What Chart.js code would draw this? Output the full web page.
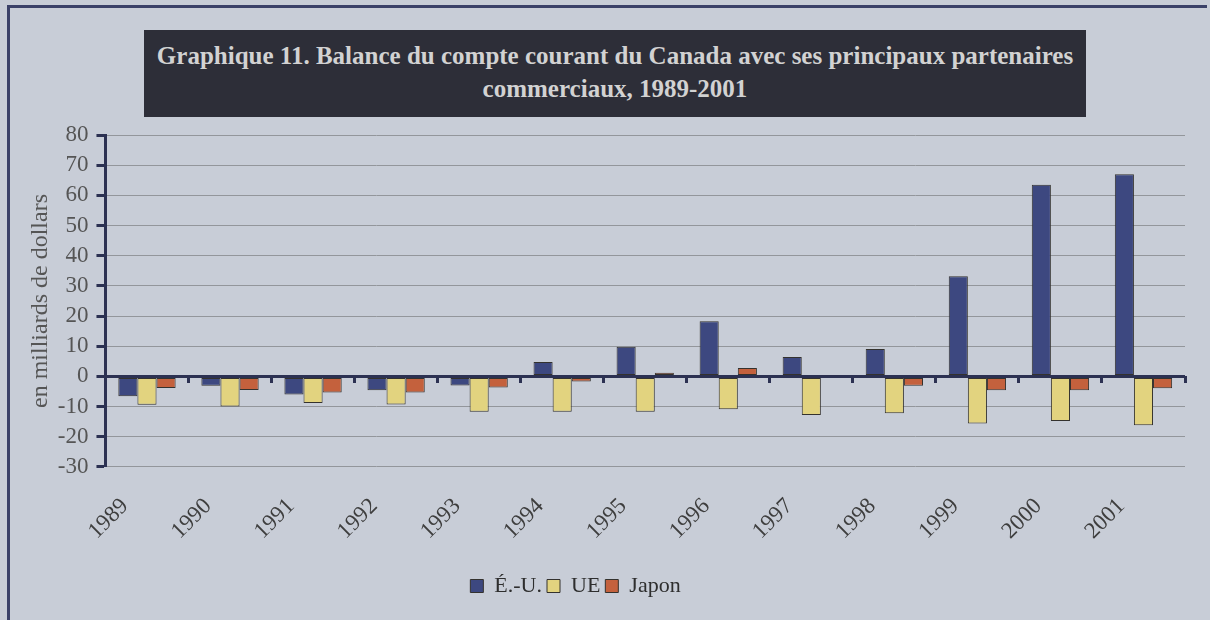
<!DOCTYPE html>
<html lang="fr">
<head>
<meta charset="utf-8">
<script src="https://cdn.jsdelivr.net/npm/chart.js@4.4.1/dist/chart.umd.min.js"></script>
<style>
  html, body { margin: 0; padding: 0; overflow: hidden; }
  body { width: 1210px; height: 620px; background: #c8cdd7; position: relative; }
  .edge-left { position: absolute; left: 7px; top: 5px; width: 3px; height: 615px; background: #3b4168; }
  .edge-top { position: absolute; left: 7px; top: 5px; width: 1200px; height: 3px; background: #3b4168; }
  .title { position: absolute; left: 144px; top: 30px; width: 942px; height: 87px;
           background: #2d2e38; color: #d2d2d2; text-align: center; white-space: nowrap;
           font: bold 25px "Liberation Serif", "Times New Roman", serif;
           line-height: 33px; padding-top: 9px; box-sizing: border-box; }
  #chart { position: absolute; left: 0; top: 0; }
</style>
</head>
<body>
<div class="edge-left"></div>
<div class="edge-top"></div>
<div class="title">Graphique 11. Balance du compte courant du Canada avec ses principaux partenaires<br>commerciaux, 1989-2001</div>
<canvas id="chart" width="1210" height="620"></canvas>
<script>
// Balance du compte courant, en milliards de dollars
var years = ['1989', '1990', '1991', '1992', '1993', '1994', '1995', '1996', '1997', '1998', '1999', '2000', '2001'];
var usValues = [-6.6, -3.1, -6.0, -4.6, -3.0, 4.8, 9.8, 18.3, 6.4, 9.1, 33.2, 63.5, 67.0];
var euValues = [-9.4, -10.0, -8.8, -9.3, -11.7, -11.7, -11.7, -10.9, -12.8, -12.2, -15.6, -14.8, -16.2];
var japanValues = [-3.8, -4.5, -5.3, -5.3, -3.7, -1.7, 1.2, 2.8, 0.4, -3.1, -4.6, -4.6, -3.9];
var seriesNames = ['É.-U.', 'UE', 'Japon'];

var SERIF = '"Liberation Serif", "Times New Roman", serif';
var NAVY = '#2c3152';

function bars(label, data, color) {
  return {
    label: label,
    data: data,
    backgroundColor: color,
    borderColor: '#34322e',
    borderWidth: 1,
    borderSkipped: false,
    categoryPercentage: 0.69,
    barPercentage: 1.0
  };
}

// nudge the legend a bit to the left, as in the original layout
var legendShift = {
  id: 'legendShift',
  afterLayout: function(chart) {
    if (chart.legend) chart.legend.right -= 60;
  }
};

var ctx = document.getElementById('chart').getContext('2d');
new Chart(ctx, {
  type: 'bar',
  data: {
    labels: years,
    datasets: [
      bars(seriesNames[0], usValues, '#3d4880'),
      bars(seriesNames[1], euValues, '#e2d37f'),
      bars(seriesNames[2], japanValues, '#c4613d')
    ]
  },
  plugins: [legendShift],
  options: {
    responsive: false,
    animation: false,
    layout: { padding: { top: 135, left: 26, right: 25, bottom: 13 } },
    plugins: {
      tooltip: { enabled: false },
      legend: {
        position: 'bottom',
        labels: {
          boxWidth: 13,
          boxHeight: 13,
          padding: 5,
          color: '#2e2e2e',
          font: { family: SERIF, size: 22 },
          generateLabels: function(chart) {
            return chart.data.datasets.map(function(ds, i) {
              return { text: ds.label, fillStyle: ds.backgroundColor, strokeStyle: '#34322e',
                       lineWidth: 1, datasetIndex: i, fontColor: '#2e2e2e' };
            });
          }
        }
      }
    },
    scales: {
      x: {
        grid: { display: false },
        border: { display: false },
        afterFit: function(scale) { scale.height += 7; },
        ticks: {
          color: '#3e3e3e',
          font: { family: SERIF, size: 23 },
          minRotation: 45,
          maxRotation: 45,
          padding: 18,
          labelOffset: -22
        }
      },
      x2: {
        type: 'category',
        position: { y: 0 },
        offset: true,
        grid: { drawOnChartArea: false, offset: true, tickLength: 7, tickWidth: 3, tickColor: NAVY },
        border: { display: false },
        ticks: { display: false }
      },
      y: {
        min: -30,
        max: 80,
        afterFit: function(scale) { scale.width -= 5; },
        ticks: {
          stepSize: 10,
          autoSkip: false,
          color: '#555',
          padding: 8,
          font: { family: SERIF, size: 23 }
        },
        border: { color: NAVY, width: 3 },
        grid: {
          color: function(c) { return c.tick && c.tick.value === 0 ? NAVY : '#93969b'; },
          lineWidth: function(c) { return c.tick && c.tick.value === 0 ? 3 : 1; },
          tickColor: NAVY,
          tickWidth: 3,
          tickLength: 9
        },
        title: {
          display: true,
          text: 'en milliards de dollars',
          color: '#555',
          padding: 0,
          font: { family: SERIF, size: 24 }
        }
      }
    }
  }
});
</script>
</body>
</html>
